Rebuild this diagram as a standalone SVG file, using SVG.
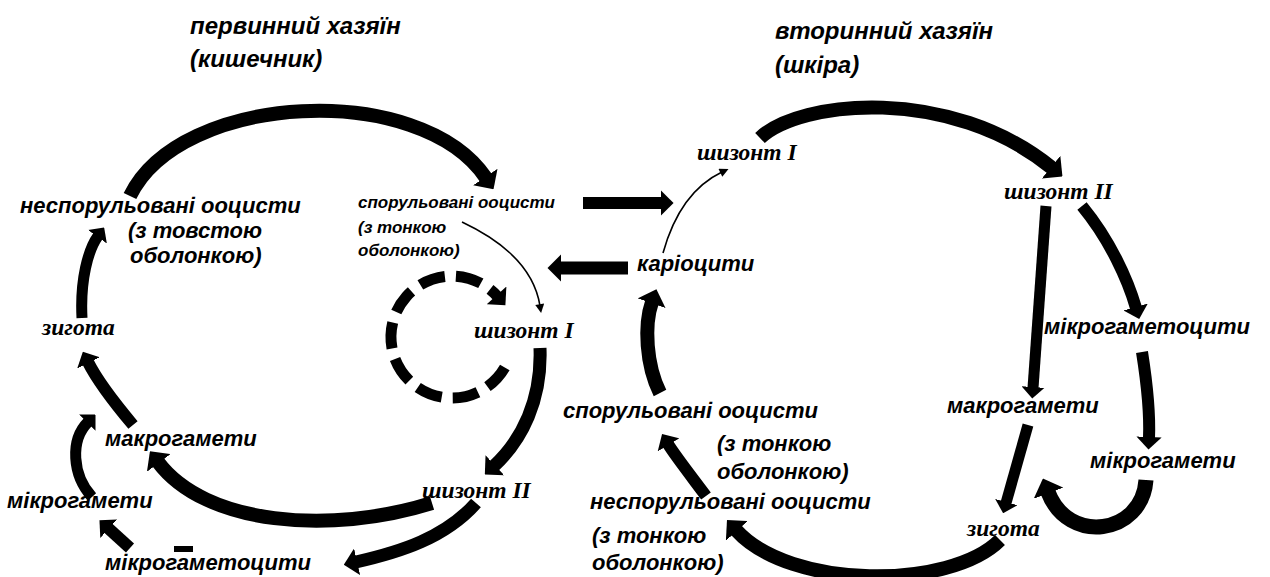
<svg xmlns="http://www.w3.org/2000/svg" width="1270" height="577" viewBox="0 0 1270 577">
<style>
.t{font-family:"Liberation Sans","DejaVu Sans",sans-serif;font-weight:bold;font-style:italic;font-size:22px;fill:#000}
.ttl{font-size:24px}
.sm{font-size:17px}
.s{font-family:"Liberation Serif","DejaVu Serif",serif;font-weight:bold;font-style:italic;font-size:23.5px;fill:#000}
.k{fill:none;stroke:#000;stroke-width:12;marker-end:url(#ah)}
.n{fill:none;stroke:#000;stroke-width:1.6;marker-end:url(#ahs)}
.d{fill:none;stroke:#000;stroke-width:11;stroke-dasharray:26 11;marker-end:url(#ahd)}
</style>
<defs>
<marker id="ah" viewBox="0 0 6 12" refX="0.5" refY="6" markerWidth="1.05" markerHeight="2.1" orient="auto" markerUnits="strokeWidth"><path d="M0,0 L6,6 L0,12 Z" fill="#000"/></marker>
<marker id="ahd" viewBox="0 0 6 12" refX="0.5" refY="6" markerWidth="1.3" markerHeight="2.4" orient="auto" markerUnits="strokeWidth"><path d="M0,0 L6,6 L0,12 Z" fill="#000"/></marker>
<marker id="ahs" viewBox="0 0 10 10" refX="2" refY="5" markerWidth="10" markerHeight="9" orient="auto" markerUnits="userSpaceOnUse"><path d="M0,0 L10,5 L0,10 Z" fill="#000"/></marker>
</defs>

<g id="titles">
<text class="t ttl" x="190" y="34">первинний хазяїн</text>
<text class="t ttl" x="190" y="67">(кишечник)</text>
<text class="t ttl" x="775" y="39">вторинний хазяїн</text>
<text class="t ttl" x="775" y="73">(шкіра)</text>
</g>

<g id="connectors">
<!-- primary host -->
<path class="k" style="stroke-width:14" d="M130,196 C180,92 420,80 486,178"/>
<path class="k" style="stroke-width:11" d="M82,318 C80,280 88,250 98,236"/>
<path class="k" d="M133,425 C112,400 96,378 88,362"/>
<path class="k" style="stroke-width:14" d="M432,503 C330,535 205,525 158,462"/>
<path class="k" style="stroke-width:11" d="M92,497 C72,475 70,440 88,422"/>
<path class="k" d="M130,548 L108,528"/>
<path d="M174,549 L193,549" stroke="#000" stroke-width="6" fill="none"/>
<path class="k" style="stroke-width:13" d="M540,348 C542,400 522,440 494,466"/>
<path class="k" style="stroke-width:13" d="M476,503 C445,538 400,552 356,562"/>
<path class="n" d="M462,222 Q532,255 540,306"/>
<path class="d" d="M504.8,367.5 A61,61 0 1 1 497.3,296.2"/>
<!-- between hosts -->
<path class="k" d="M583,203 L662,203"/>
<path class="k" style="stroke-width:13" d="M628,268 L560,268"/>
<!-- secondary host -->
<path class="k" style="stroke-width:14" d="M760,138 C800,100 950,85 1052,168"/>
<path class="n" d="M663,253 Q680,192 722,172"/>
<path class="k" d="M1082,206 C1110,240 1128,280 1136,308"/>
<path class="k" style="stroke-width:11" d="M1046,206 L1033,388"/>
<path class="k" style="stroke-width:11" d="M1028,425 L1006,503"/>
<path class="k" d="M1142,352 C1148,390 1150,415 1149,438"/>
<path class="k" style="stroke-width:15" d="M1146,480 C1142,535 1068,545 1048,492"/>
<path class="k" style="stroke-width:14" d="M1000,540 C950,590 790,590 736,530"/>
<path class="k" d="M706,496 C688,472 674,454 668,444"/>
<path class="k" style="stroke-width:14" d="M660,393 C646,365 644,325 652,302"/>
</g>

<g id="p-unsporulated">
<text class="t" x="20" y="213">неспорульовані ооцисти</text>
<text class="t" x="128" y="238">(з товстою</text>
<text class="t" x="130" y="263">оболонкою)</text>
</g>
<g id="p-sporulated">
<text class="t sm" x="358" y="208">спорульовані ооцисти</text>
<text class="t sm" x="358" y="233">(з тонкою</text>
<text class="t sm" x="358" y="256">оболонкою)</text>
</g>
<g id="p-zygote"><text class="s" x="42" y="335">зигота</text></g>
<g id="p-schizont1"><text class="s" x="474" y="338">шизонт I</text></g>
<g id="p-schizont2"><text class="s" x="422" y="498">шизонт II</text></g>
<g id="p-macrogametes"><text class="t" x="105" y="446">макрогамети</text></g>
<g id="p-microgametes"><text class="t" x="7" y="508">мікрогамети</text></g>
<g id="p-microgametocytes"><text class="t" x="105" y="570">мікрогаметоцити</text></g>

<g id="s-schizont1"><text class="s" x="697" y="160">шизонт I</text></g>
<g id="s-karyocytes"><text class="t" x="637" y="271">каріоцити</text></g>
<g id="s-schizont2"><text class="s" x="1004" y="199">шизонт II</text></g>
<g id="s-microgametocytes"><text class="t" x="1044" y="334">мікрогаметоцити</text></g>
<g id="s-macrogametes"><text class="t" x="947" y="413">макрогамети</text></g>
<g id="s-microgametes"><text class="t" x="1090" y="468">мікрогамети</text></g>
<g id="s-zygote"><text class="s" x="967" y="536">зигота</text></g>
<g id="s-sporulated">
<text class="t" x="563" y="418">спорульовані ооцисти</text>
<text class="t" x="717" y="451">(з тонкою</text>
<text class="t" x="717" y="479">оболонкою)</text>
</g>
<g id="s-unsporulated">
<text class="t" x="590" y="509">неспорульовані ооцисти</text>
<text class="t" x="592" y="543">(з тонкою</text>
<text class="t" x="592" y="570">оболонкою)</text>
</g>
</svg>
